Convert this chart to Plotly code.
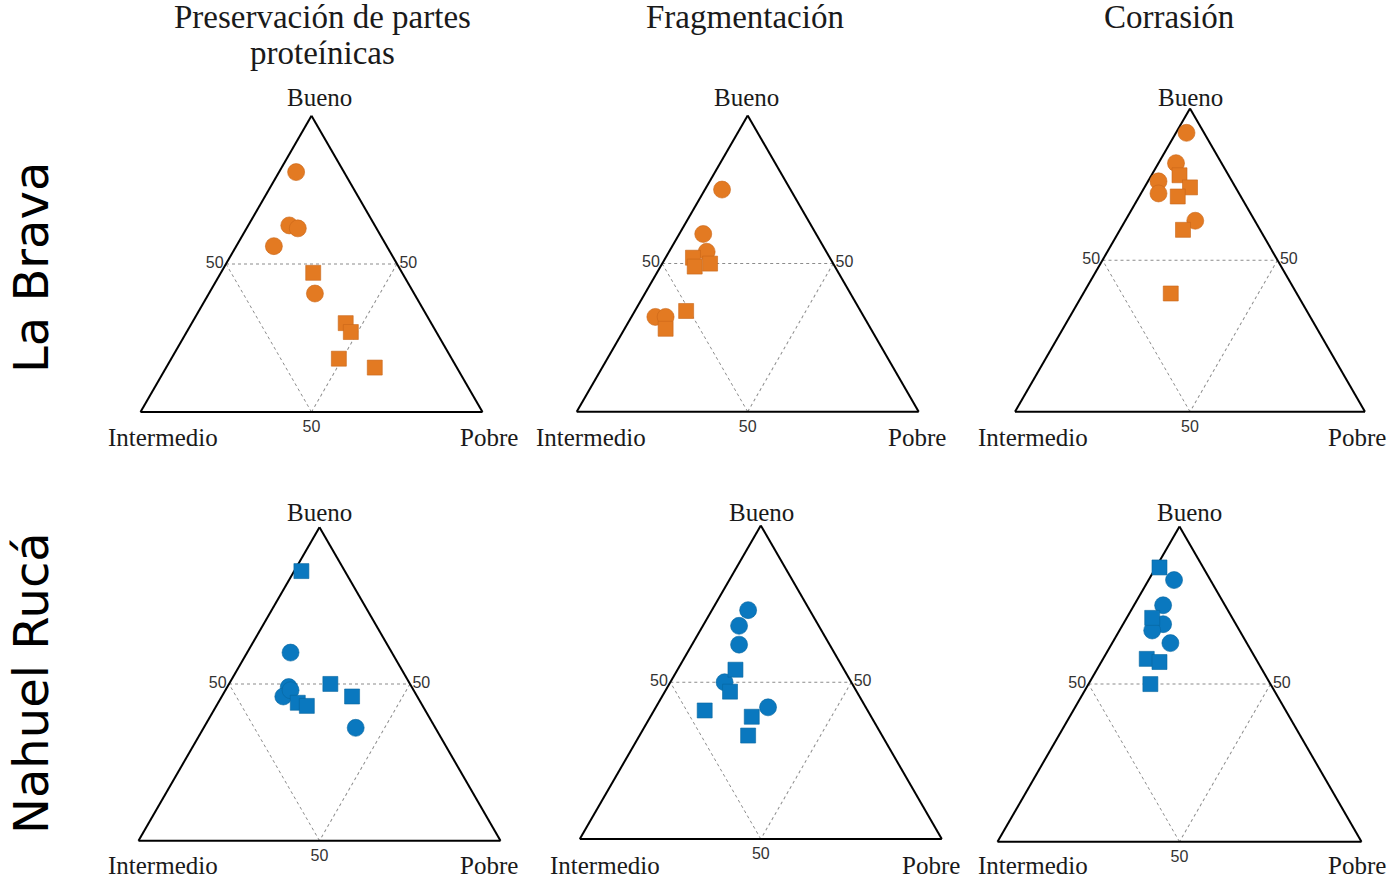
import math
import plotly.graph_objects as go

# ---------------------------------------------------------------------------
# Text
# ---------------------------------------------------------------------------
columns = ["Preservación de partes<br>proteínicas", "Fragmentación", "Corrasión"]
rows = ["La Brava", "Nahuel Rucá"]
vertex_labels = ["Bueno", "Intermedio", "Pobre"]
tick_values = [50]
tick_labels = ["50"]

# ---------------------------------------------------------------------------
# Data: (Bueno, Intermedio, Pobre) in percent
# ---------------------------------------------------------------------------
# La Brava
lb_preservacion_circulos = [(81, 14, 5), (63, 25, 12), (62, 23, 15), (56, 33, 11), (40, 29, 31)]
lb_preservacion_cuadrados = [(47, 26, 27), (30, 25, 45), (27, 25, 48), (18, 33, 49), (15, 24, 61)]
lb_fragmentacion_circulos = [(75, 20, 5), (60, 33, 7), (54, 35, 11), (32, 61, 7), (32, 58, 10)]
lb_fragmentacion_cuadrados = [(52, 40, 8), (49, 41, 10), (50, 36, 14), (34, 51, 15), (28, 60, 12)]
lb_corrasion_circulos = [(92, 5, 3), (82, 13, 5), (76, 21, 3), (72, 23, 5), (63, 17, 20)]
lb_corrasion_cuadrados = [(78, 14, 8), (74, 13, 13), (71, 18, 11), (60, 22, 18), (39, 36, 25)]

# Nahuel Rucá
nr_preservacion_circulos = [(60, 28, 12), (49, 34, 17), (46, 37, 17), (48, 34, 18), (36, 22, 42)]
nr_preservacion_cuadrados = [(86, 12, 2), (50, 22, 28), (46, 18, 36), (44, 34, 22), (43, 32, 25)]
nr_fragmentacion_circulos = [(73, 17, 10), (68, 22, 10), (62, 25, 13), (50, 35, 15), (42, 27, 31)]
nr_fragmentacion_cuadrados = [(54, 30, 16), (47, 35, 18), (41, 45, 14), (39, 33, 28), (33, 37, 30)]
nr_corrasion_circulos = [(83, 10, 7), (75, 17, 8), (69, 20, 11), (67, 24, 9), (63, 21, 16)]
nr_corrasion_cuadrados = [(87, 12, 1), (71, 22, 7), (58, 30, 12), (57, 27, 16), (50, 33, 17)]

panel_data = [
    [(lb_preservacion_circulos, lb_preservacion_cuadrados),
     (lb_fragmentacion_circulos, lb_fragmentacion_cuadrados),
     (lb_corrasion_circulos, lb_corrasion_cuadrados)],
    [(nr_preservacion_circulos, nr_preservacion_cuadrados),
     (nr_fragmentacion_circulos, nr_fragmentacion_cuadrados),
     (nr_corrasion_circulos, nr_corrasion_cuadrados)],
]

# ---------------------------------------------------------------------------
# Styling / layout
# ---------------------------------------------------------------------------
FIG_W, FIG_H = 1388, 878
row_colors = ["#E37A22", "#0A78BF"]
row_edges = ["#C9661A", "#08679F"]

SERIF = "Liberation Serif, Times New Roman, serif"
SANS = "Liberation Sans, Arial, sans-serif"

# triangle placement in pixels: (centre x, base y, side length)
triangle_px = [
    [(311.5, 412.0, 342), (747.7, 411.7, 342), (1190.0, 411.7, 350)],
    [(319.5, 840.7, 362), (760.8, 839.0, 362), (1179.5, 841.7, 364)],
]

# label positions in pixels
vertex_label_px = [
    [[(319, 97), (163, 437), (489, 437)],
     [(747, 97), (591, 437), (917, 437)],
     [(1190, 97), (1033, 437), (1357, 437)]],
    [[(319, 512), (163, 865), (489, 865)],
     [(761, 512), (605, 865), (931, 865)],
     [(1189, 512), (1033, 865), (1357, 865)]],
]
column_title_px = [(322, 17), (745, 17), (1169, 17)]
title_line_step = 36
row_label_px = [(31, 268), (31, 683)]


def px_x(x):
    return x / FIG_W


def px_y(y):
    return 1 - y / FIG_H


def axis_style():
    return dict(
        min=0,
        tickmode="array",
        tickvals=tick_values,
        ticktext=tick_labels,
        ticks="",
        showticklabels=True,
        tickfont=dict(family=SANS, size=16, color="#333333"),
        showline=True,
        linecolor="black",
        linewidth=2,
        showgrid=True,
        gridcolor="#8c8c8c",
        gridwidth=1,
        griddash="dot",
        layer="below traces",
        title=dict(text=""),
    )


fig = go.Figure()
layout_updates = {}
annotations = []

k = 0
for r in range(2):
    for c in range(3):
        k += 1
        name = "ternary" if k == 1 else f"ternary{k}"
        cx, base, side = triangle_px[r][c]
        h = side * math.sqrt(3) / 2
        layout_updates[name] = dict(
            sum=100,
            bgcolor="white",
            domain=dict(
                x=[px_x(cx - side / 2), px_x(cx + side / 2)],
                y=[px_y(base), px_y(base - h)],
            ),
            aaxis=axis_style(),
            baxis=axis_style(),
            caxis=axis_style(),
        )

        circles, squares = panel_data[r][c]
        for pts, symbol, size in ((circles, "circle", 17), (squares, "square", 15)):
            fig.add_trace(go.Scatterternary(
                a=[p[0] for p in pts],
                b=[p[1] for p in pts],
                c=[p[2] for p in pts],
                mode="markers",
                subplot=name,
                showlegend=False,
                cliponaxis=False,
                marker=dict(symbol=symbol, size=size, color=row_colors[r],
                            line=dict(color=row_edges[r], width=0.6)),
            ))

        for (lx, ly), text in zip(vertex_label_px[r][c], vertex_labels):
            annotations.append(dict(
                x=px_x(lx), y=px_y(ly), xref="paper", yref="paper",
                text=text, showarrow=False, xanchor="center", yanchor="middle",
                font=dict(family=SERIF, size=25, color="#1a1a1a"),
            ))

# column titles, one annotation per line for tight line spacing
for (tx, ty), text in zip(column_title_px, columns):
    for i, line in enumerate(text.split("<br>")):
        annotations.append(dict(
            x=px_x(tx), y=px_y(ty + i * title_line_step), xref="paper", yref="paper",
            text=line, showarrow=False, xanchor="center", yanchor="middle",
            font=dict(family=SERIF, size=33, color="#1a1a1a"),
        ))

for (tx, ty), text in zip(row_label_px, rows):
    annotations.append(dict(
        x=px_x(tx), y=px_y(ty), xref="paper", yref="paper",
        text=text, showarrow=False, xanchor="center", yanchor="middle",
        textangle=-90,
        font=dict(family="DejaVu Sans, sans-serif", size=48, color="black"),
    ))

fig.update_layout(
    width=FIG_W,
    height=FIG_H,
    autosize=False,
    margin=dict(l=0, r=0, t=0, b=0),
    paper_bgcolor="white",
    plot_bgcolor="white",
    annotations=annotations,
    **layout_updates,
)

fig.write_html("out.html")
